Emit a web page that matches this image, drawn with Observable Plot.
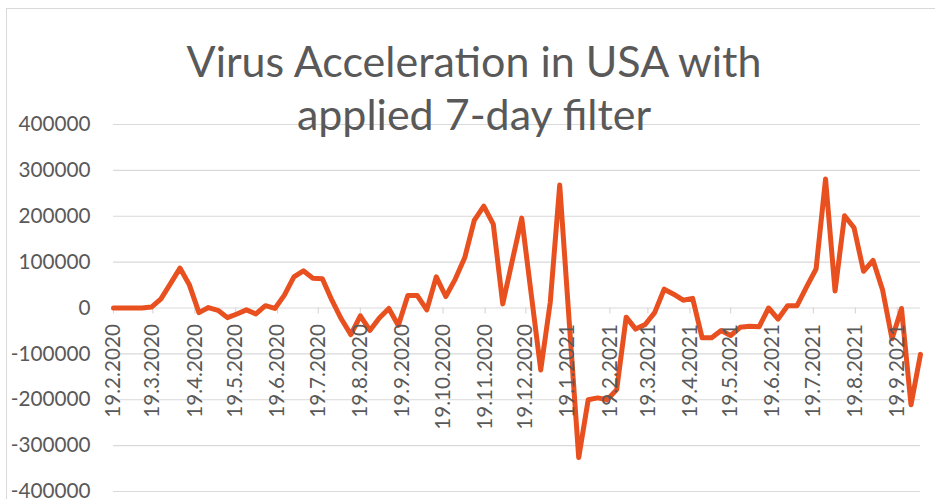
<!DOCTYPE html>
<html>
<head>
<meta charset="utf-8">
<script src="https://cdn.jsdelivr.net/npm/d3@7"></script>
<script src="https://cdn.jsdelivr.net/npm/@observablehq/plot@0.6"></script>
<style>
  html, body { margin: 0; padding: 0; background: #fff; }
  #wrap { position: relative; width: 935px; height: 499px; overflow: hidden; font-family: Lato, "Open Sans", sans-serif; }
  #frame { position: absolute; left: 6px; top: 8px; right: -10px; bottom: -10px; border-top: 1px solid #d9d9d9; border-left: 1px solid #d9d9d9; pointer-events: none; }
  #title { position: absolute; left: 124px; width: 700px; top: 34px; text-align: center; font-family: Lato, sans-serif; font-weight: 400; font-size: 43px; line-height: 53px; color: #595959; }
  #chart { position: absolute; left: 0; top: 0; }
</style>
</head>
<body>
<div id="wrap">
  <div id="frame"></div>
  <div id="chart"></div>
  <div id="title">Virus Acceleration in USA with<br>applied 7-day filter</div>
</div>
<script>
// Weekly sample dates (YYYY-MM-DD)
const dates = [
  "2020-02-19","2020-02-26","2020-03-04","2020-03-11","2020-03-18","2020-03-25",
  "2020-04-01","2020-04-08","2020-04-15","2020-04-22","2020-04-29",
  "2020-05-06","2020-05-13","2020-05-20","2020-05-27",
  "2020-06-03","2020-06-10","2020-06-17","2020-06-24",
  "2020-07-01","2020-07-08","2020-07-15","2020-07-22","2020-07-29",
  "2020-08-05","2020-08-12","2020-08-19","2020-08-26",
  "2020-09-02","2020-09-09","2020-09-16","2020-09-23","2020-09-30",
  "2020-10-07","2020-10-14","2020-10-21","2020-10-28",
  "2020-11-04","2020-11-11","2020-11-18","2020-11-25",
  "2020-12-02","2020-12-09","2020-12-16","2020-12-23","2020-12-30",
  "2021-01-06","2021-01-13","2021-01-20","2021-01-27",
  "2021-02-03","2021-02-10","2021-02-17","2021-02-24",
  "2021-03-03","2021-03-10","2021-03-17","2021-03-24","2021-03-31",
  "2021-04-07","2021-04-14","2021-04-21","2021-04-28",
  "2021-05-05","2021-05-12","2021-05-19","2021-05-26",
  "2021-06-02","2021-06-09","2021-06-16","2021-06-23","2021-06-30",
  "2021-07-07","2021-07-14","2021-07-21","2021-07-28",
  "2021-08-04","2021-08-11","2021-08-18","2021-08-25",
  "2021-09-01","2021-09-08","2021-09-15","2021-09-22","2021-09-29",
  "2021-10-06"
];

// Virus acceleration (7-day filtered)
const values = [
  0, 0, 0, 0, 2000, 20000,
  53000, 87000, 50000, -10000, 1000,
  -5000, -21000, -13000, -4000,
  -13000, 5000, -1000, 28000,
  68000, 81000, 65000, 64000, 17000,
  -24000, -58000, -17000, -49000,
  -22000, -1000, -38000, 27000, 27000,
  -4000, 68000, 25000, 63000,
  110000, 191000, 222000, 183000,
  9000, 103000, 196000, 30000, -135000,
  12000, 268000, -30000, -326000,
  -200000, -196000, -200000, -178000,
  -20000, -46000, -36000, -10000, 41000,
  30000, 17000, 21000, -65000,
  -65000, -49000, -60000, -42000,
  -40000, -41000, 0, -24000, 5000,
  5000, 46000, 85000, 281000,
  37000, 201000, 175000, 80000,
  104000, 40000, -67000, -1000, -211000,
  -101000
];

// Month tick labels on the category axis
const xTickLabels = [
  "19.2.2020","19.3.2020","19.4.2020","19.5.2020","19.6.2020","19.7.2020",
  "19.8.2020","19.9.2020","19.10.2020","19.11.2020","19.12.2020",
  "19.1.2021","19.2.2021","19.3.2021","19.4.2021","19.5.2021","19.6.2021",
  "19.7.2021","19.8.2021","19.9.2021"
];

const yTicks = [-400000, -300000, -200000, -100000, 0, 100000, 200000, 300000, 400000];

const parseDMY = (s) => { const [d, m, y] = s.split(".").map(Number); return new Date(Date.UTC(y, m - 1, d)); };
const data = dates.map((d, i) => ({date: new Date(d + "T00:00:00Z"), value: values[i]}));
const xTicks = xTickLabels.map((label) => ({date: parseDMY(label), label}));

const chart = Plot.plot({
  width: 935,
  height: 499,
  marginLeft: 113,
  marginRight: 15,
  marginTop: 124,
  marginBottom: 8,
  style: {fontFamily: "Lato, sans-serif", fontSize: "20.7px", color: "#595959", background: "transparent", overflow: "visible"},
  x: {type: "utc", domain: [data[0].date, data[data.length - 1].date], axis: null},
  y: {domain: [-400000, 400000], ticks: yTicks, tickSize: 0, tickPadding: 23, tickFormat: (d) => String(d), label: null},
  marks: [
    Plot.ruleY(yTicks, {stroke: "#d9d9d9", strokeWidth: 1.2}),
    Plot.ruleX(xTicks, {x: "date", y1: 0, y2: 0, insetBottom: -6, stroke: "#d9d9d9", strokeWidth: 1.2}),
    Plot.line(data, {x: "date", y: "value", stroke: "#e8501f", strokeWidth: 5, strokeLinejoin: "round", strokeLinecap: "round"}),
    Plot.text(xTicks, {x: "date", y: 0, text: "label", rotate: -90, textAnchor: "end", lineAnchor: "middle", dy: 16, fill: "#595959", fontSize: 20.7})
  ]
});
document.getElementById("chart").appendChild(chart);
</script>
</body>
</html>
